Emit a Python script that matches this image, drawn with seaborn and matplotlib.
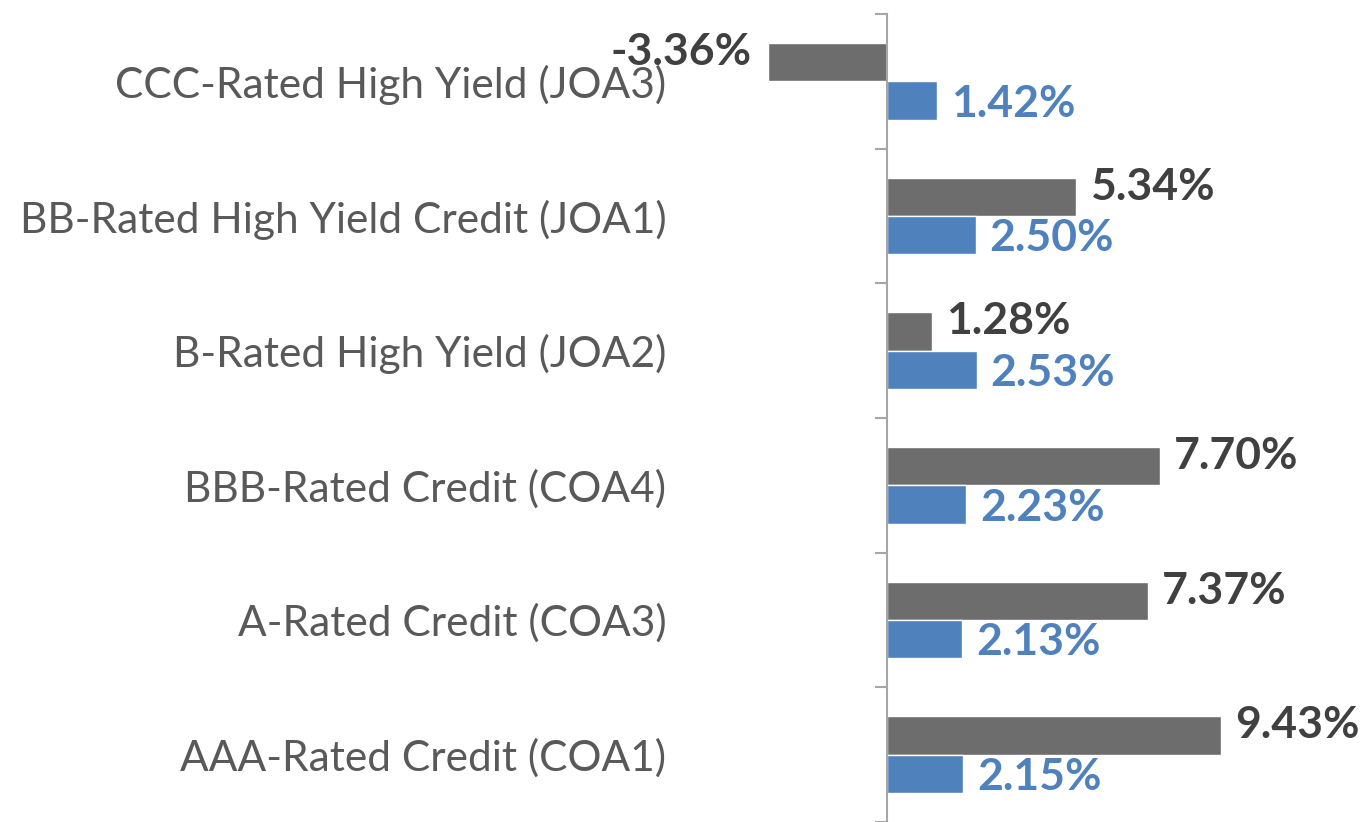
import pandas as pd
import matplotlib.pyplot as plt
import seaborn as sns

# ---------------------------------------------------------
# data
# ---------------------------------------------------------
categories = [
    "CCC-Rated High Yield (JOA3)",
    "BB-Rated High Yield Credit (JOA1)",
    "B-Rated High Yield (JOA2)",
    "BBB-Rated Credit (COA4)",
    "A-Rated Credit (COA3)",
    "AAA-Rated Credit (COA1)",
]
series_names = ["Series 1", "Series 2"]
series_1 = [-3.36, 5.34, 1.28, 7.70, 7.37, 9.43]
series_2 = [1.42, 2.50, 2.53, 2.23, 2.13, 2.15]

bar_colors = ["#6d6d6d", "#4f81bd"]
text_colors = ["#404040", "#4f81bd"]

df = pd.DataFrame({
    "category": categories * 2,
    "series": [series_names[0]] * len(categories) + [series_names[1]] * len(categories),
    "value": series_1 + series_2,
})

sns.set_theme(style="white")
plt.rcParams["font.family"] = ["Lato", "DejaVu Sans"]

fig = plt.figure(figsize=(13.61, 8.22), dpi=100)
ax = fig.add_axes([680 / 1361, 0.0, (1361 - 680) / 1361, (822 - 14) / 822])

sns.barplot(data=df, y="category", x="value", hue="series", orient="h",
            palette=bar_colors, width=0.57, legend=False, ax=ax,
            saturation=1, errorbar=None)

ax.set_xlim(-5.85, 13.39)
ax.set_ylim(5.5, -0.5)
ax.set_xlabel("")
ax.set_ylabel("")

# axis line at zero with tick marks between categories
for s in ["top", "right", "bottom"]:
    ax.spines[s].set_visible(False)
ax.spines["left"].set_position(("data", 0))
ax.spines["left"].set_color("#a6a6a6")
ax.spines["left"].set_linewidth(1.5)
ax.set_xticks([])
ax.set_yticks([i - 0.5 for i in range(len(categories) + 1)], minor=True)
ax.tick_params(axis="y", which="minor", left=True, length=8.6, width=1.5,
               color="#a6a6a6", direction="out")
ax.tick_params(axis="y", which="major", length=0, pad=159,
               labelsize=30.5, labelcolor="#595959")

# value labels
for k, cont in enumerate(ax.containers):
    dy = -10 if k == 0 else 3
    for bar in cont:
        w = bar.get_width()
        yc = bar.get_y() + bar.get_height() / 2
        if w >= 0:
            ax.annotate(f"{w:.2f}%", (w, yc), xytext=(10, -dy * 0.72),
                        textcoords="offset points", ha="left", va="center",
                        fontsize=32, fontweight="bold", color=text_colors[k])
        else:
            ax.annotate(f"{w:.2f}%", (w, yc), xytext=(-12, -dy * 0.72),
                        textcoords="offset points", ha="right", va="center",
                        fontsize=32, fontweight="bold", color=text_colors[k])

fig.savefig("out.png", dpi=100)
